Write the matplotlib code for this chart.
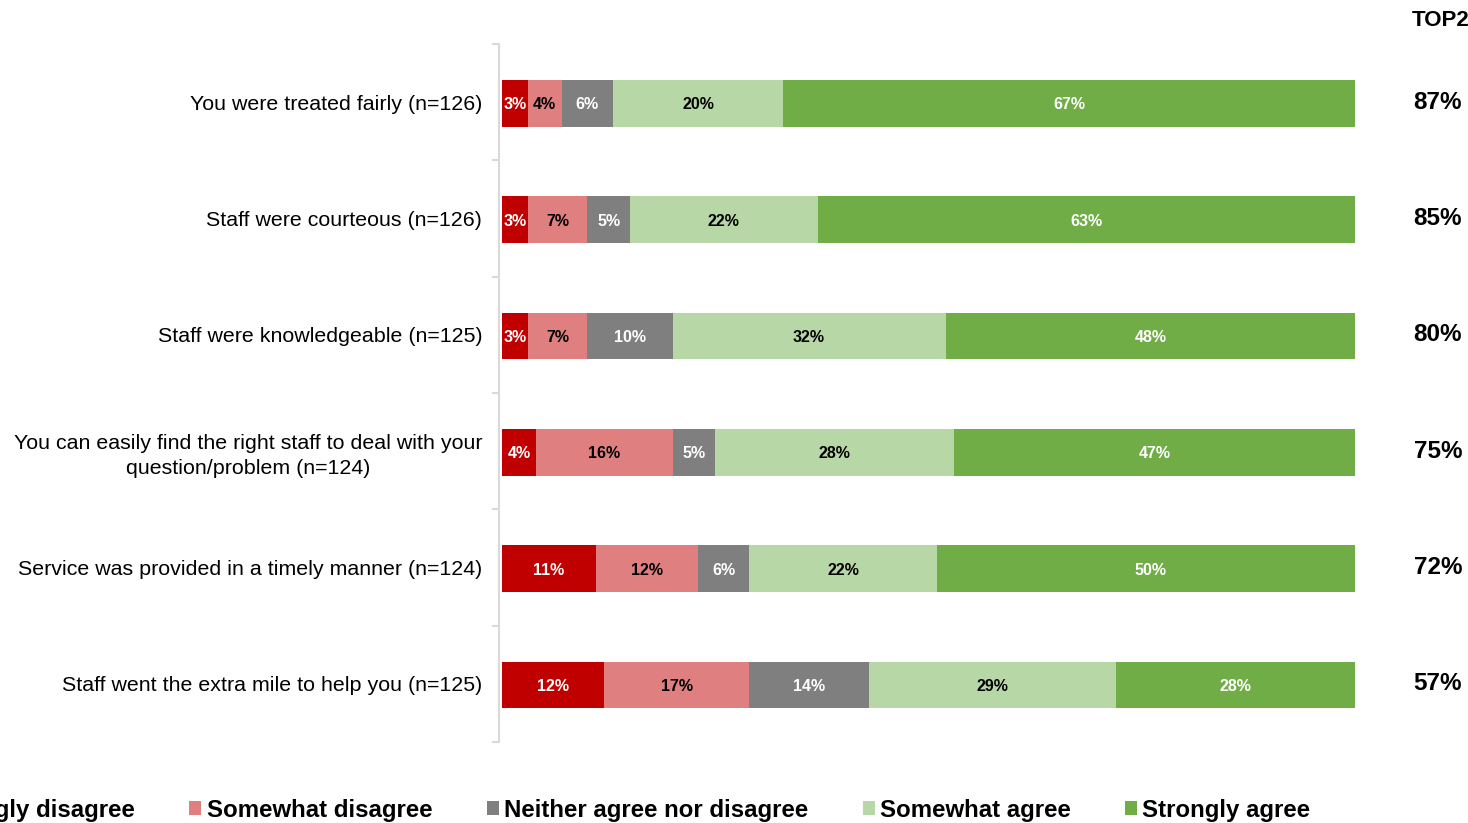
import numpy as np
import matplotlib.pyplot as plt
from matplotlib.patches import Patch

plt.rcParams['font.family'] = ['Liberation Sans', 'DejaVu Sans']

statements = [
    'You were treated fairly (n=126)',
    'Staff were courteous (n=126)',
    'Staff were knowledgeable (n=125)',
    'You can easily find the right staff to deal with your\nquestion/problem (n=124)',
    'Service was provided in a timely manner (n=124)',
    'Staff went the extra mile to help you (n=125)',
]
strongly_disagree = [3, 3, 3, 4, 11, 12]
somewhat_disagree = [4, 7, 7, 16, 12, 17]
neither = [6, 5, 10, 5, 6, 14]
somewhat_agree = [20, 22, 32, 28, 22, 29]
strongly_agree = [67, 63, 48, 47, 50, 28]
top2 = [87, 85, 80, 75, 72, 57]

series = [
    ('Strongly disagree', strongly_disagree, '#C00000', 'white'),
    ('Somewhat disagree', somewhat_disagree, '#DF7F7F', 'black'),
    ('Neither agree nor disagree', neither, '#7F7F7F', 'white'),
    ('Somewhat agree', somewhat_agree, '#B8D7A6', 'black'),
    ('Strongly agree', strongly_agree, '#70AD47', 'white'),
]

fig = plt.figure(figsize=(14.68, 8.23), dpi=100)
ax = fig.add_axes([499 / 1468, 1 - 742 / 823, (1355 - 499) / 1468, (742 - 44) / 823])

y = np.arange(len(statements))
left = np.zeros(len(statements))
handles = []
for name, vals, color, txt in series:
    vals = np.array(vals, dtype=float)
    ax.barh(y + 0.01, vals, left=left, height=0.4, color=color, edgecolor='none')
    for yi, l, v in zip(y, left, vals):
        ax.text(l + v / 2, yi + 0.01, f'{v:.0f}%', ha='center', va='center_baseline',
                color=txt, fontsize=11.5, fontweight='bold')
    left += vals
    handles.append(Patch(facecolor=color, label=name))

ax.set_xlim(-0.35, 100)
ax.set_ylim(5.5, -0.5)
ax.set_xticks([])
ax.set_yticks(y)
ax.set_yticklabels(statements, fontsize=15.4, multialignment='center')
for lbl in ax.get_yticklabels():
    lbl.set_linespacing(1.4)
ax.set_yticks(np.arange(-0.5, 6, 1), minor=True)
ax.tick_params(axis='y', which='major', length=0, pad=12)
ax.tick_params(axis='y', which='minor', length=5, color='#D9D9D9', width=1.5)
for s in ['top', 'right', 'bottom']:
    ax.spines[s].set_visible(False)
ax.spines['left'].set_color('#D9D9D9')
ax.spines['left'].set_linewidth(1.5)

# TOP2 column on the right
fig.text(1469 / 1468, 1 - 20 / 823, 'TOP2', ha='right', va='center',
         fontsize=16, fontweight='bold')
for yi, t in zip(y, top2):
    ypix = ax.transData.transform((0, yi))[1]
    fig.text(1438 / 1468, ypix / fig.dpi / fig.get_figheight(), f'{t}%',
             ha='center', va='center', fontsize=17.5, fontweight='bold')

fig.legend(handles=handles, loc='center left', bbox_to_anchor=(-85 / 1468, 13 / 823),
           ncol=5, frameon=False, borderpad=0, borderaxespad=0,
           handlelength=0.5, handleheight=0.5, handletextpad=0.22,
           columnspacing=2.26, prop={'size': 17.3, 'weight': 'bold'})

fig.savefig('out.png', dpi=100)
